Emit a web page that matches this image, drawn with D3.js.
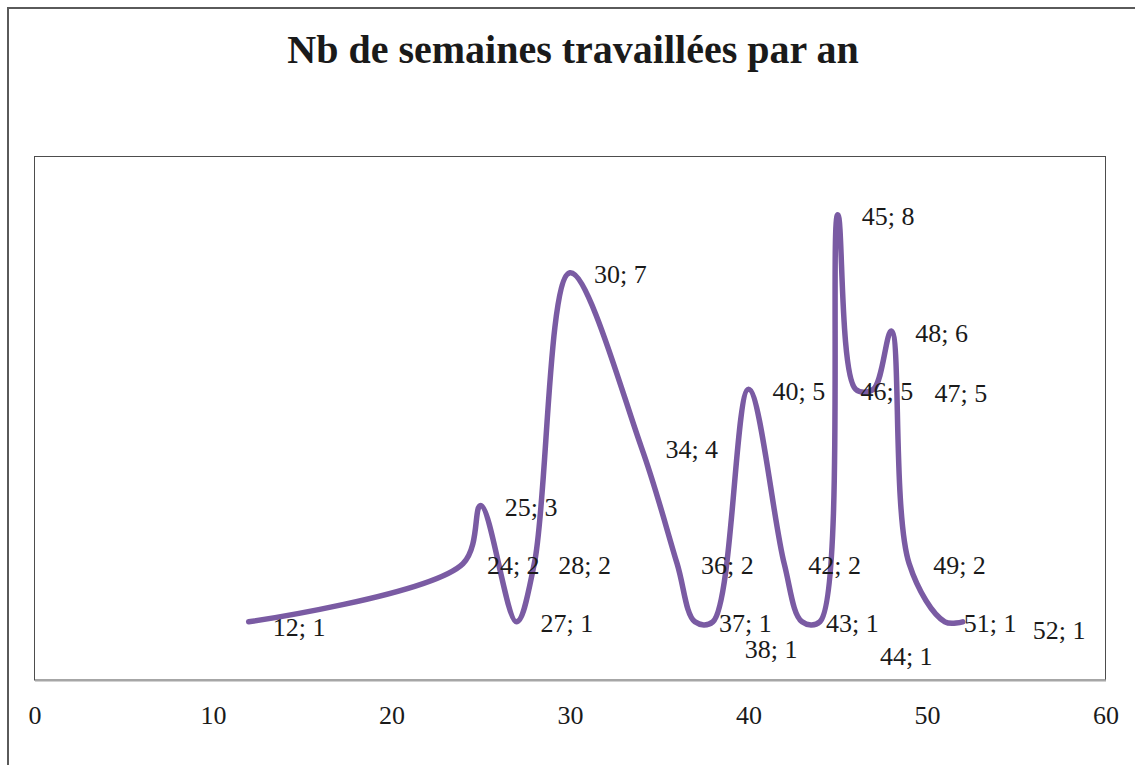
<!DOCTYPE html>
<html><head><meta charset="utf-8">
<script src="https://cdn.jsdelivr.net/npm/d3@7"></script>
<style>html,body{margin:0;padding:0;background:#fff;}svg{display:block;}</style>
</head><body>
<svg id="chart" width="1135" height="765"></svg>
<script>
// ---- data ----
const weeks  = [12, 24, 25, 27, 28, 30, 34, 36, 37, 38, 40, 42, 43, 44, 45, 46, 47, 48, 49, 51, 52];
const counts = [ 1,  2,  3,  1,  2,  7,  4,  2,  1,  1,  5,  2,  1,  1,  8,  5,  5,  6,  2,  1,  1];
const xTicks = [0, 10, 20, 30, 40, 50, 60];
const title = "Nb de semaines travaillées par an";
// manual label nudges (px) for labels moved away from default right position
const labelNudge = {38: [8, 26], 44: [36, 33], 46: [-19, 0], 47: [37, 2], 51: [-5, 0], 52: [46, 7], 12: [0, 4]};

const svg = d3.select("#chart");
const font = "'Liberation Serif', 'Times New Roman', serif";

// chart area border
svg.append("rect").attr("x", 8).attr("y", 8).attr("width", 1140).attr("height", 800)
  .attr("fill", "#fff").attr("stroke", "#5a5a5a").attr("stroke-width", 2);

const plot = {left: 34.5, top: 156.5, right: 1105.5, bottom: 680};

const x = d3.scaleLinear().domain([0, 60]).range([plot.left, plot.right]);
const y = d3.scaleLinear().domain([0, 9]).range([plot.bottom, plot.top]);

// plot area
svg.append("rect").attr("x", plot.left).attr("y", plot.top)
  .attr("width", plot.right - plot.left).attr("height", plot.bottom - plot.top)
  .attr("fill", "none").attr("stroke", "#4d4d4d").attr("stroke-width", 1);

// title
svg.append("text").attr("x", 573).attr("y", 63).attr("text-anchor", "middle")
  .attr("font-family", font).attr("font-weight", "bold").attr("font-size", 40)
  .attr("fill", "#1a1a1a").text(title);

// x axis
const xAxis = d3.axisBottom(x).tickValues(xTicks).tickSize(0).tickPadding(0).tickFormat(d3.format("d"));
const gx = svg.append("g").attr("transform", `translate(0,${plot.bottom})`).call(xAxis);
gx.select(".domain").attr("stroke", "#a6a6a6").attr("stroke-width", 2);
gx.selectAll("text").attr("font-family", font).attr("font-size", 26).attr("fill", "#1a1a1a")
  .attr("dy", null).attr("y", 44);

// line
const pts = weeks.map((w, i) => [w, counts[i]]);
const line = d3.line().x(d => x(d[0])).y(d => y(d[1])).curve(d3.curveCatmullRom.alpha(0.5));
svg.append("path").datum(pts).attr("d", line).attr("fill", "none")
  .attr("stroke", "#7a5ba3").attr("stroke-width", 5.5).attr("stroke-linecap", "round").attr("stroke-linejoin", "round");

// labels
svg.append("g").selectAll("text").data(pts).join("text")
  .attr("x", d => x(d[0]) + 24 + (labelNudge[d[0]] ? labelNudge[d[0]][0] : 0))
  .attr("y", d => y(d[1]) + 10.5 + (labelNudge[d[0]] ? labelNudge[d[0]][1] : 0))
  .attr("font-family", font).attr("font-size", 26).attr("fill", "#1a1a1a")
  .text(d => `${d[0]}; ${d[1]}`);
</script>
</body></html>
